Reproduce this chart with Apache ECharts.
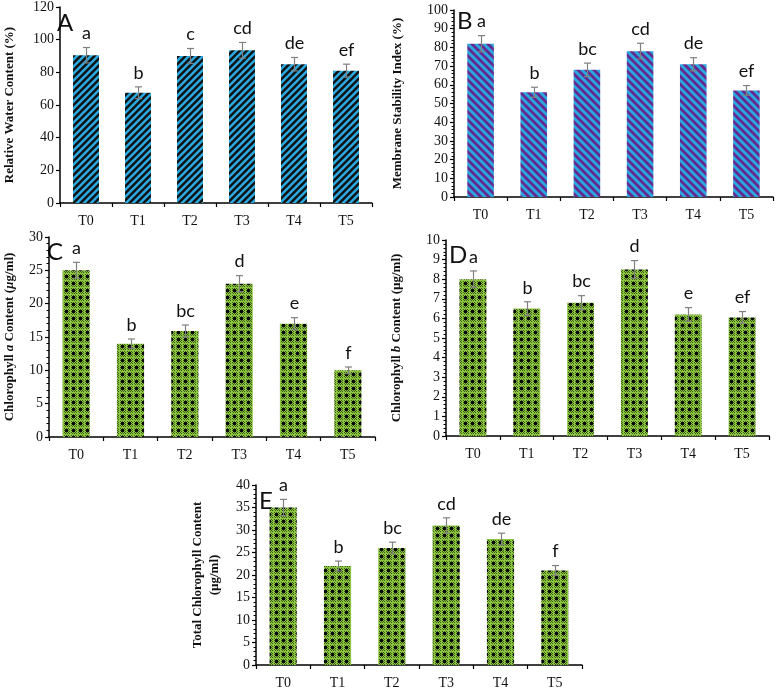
<!DOCTYPE html>
<html>
<head>
<meta charset="utf-8">
<script src="https://cdn.jsdelivr.net/npm/echarts@6/dist/echarts.min.js"></script>
<style>html,body{margin:0;padding:0;background:#fff;}#main{width:776px;height:690px;}</style>
</head>
<body>
<div id="main"></div>
<script>
const categories = ['T0','T1','T2','T3','T4','T5'];

const rwcValues = [90.5, 67.5, 90, 93.5, 85, 81];
const rwcErrors = [4.7, 3.6, 4.6, 4.8, 4.1, 4.0];
const rwcLetters = ['a','b','c','cd','de','ef'];

const msiValues = [82, 56, 68, 78, 71, 57];
const msiErrors = [4.3, 2.7, 3.6, 4.2, 3.5, 2.6];
const msiLetters = ['a','b','bc','cd','de','ef'];

const chlaValues = [25, 14, 15.9, 23, 17, 10];
const chlaErrors = [1.2, 0.7, 0.9, 1.2, 0.9, 0.5];
const chlaLetters = ['a','b','bc','d','e','f'];

const chlbValues = [8, 6.5, 6.8, 8.5, 6.2, 6.05];
const chlbErrors = [0.42, 0.35, 0.36, 0.45, 0.35, 0.3];
const chlbLetters = ['a','b','bc','d','e','ef'];

const totalValues = [35, 22, 26, 31, 28, 21];
const totalErrors = [1.8, 1.1, 1.3, 1.7, 1.3, 1.1];
const totalLetters = ['a','b','bc','cd','de','f'];

function stripeCanvas(bg, fg, dir, s, lw) {
  const c = document.createElement('canvas');
  c.width = s; c.height = s;
  const ctx = c.getContext('2d');
  ctx.fillStyle = bg; ctx.fillRect(0,0,s,s);
  ctx.strokeStyle = fg; ctx.lineWidth = lw; ctx.lineCap = 'square';
  const seg = (a,b,c2,d) => { ctx.beginPath(); ctx.moveTo(a,b); ctx.lineTo(c2,d); ctx.stroke(); };
  if (dir === '/') {
    seg(-1, s+1, s+1, -1); seg(-2, 2, 2, -2); seg(s-2, s+2, s+2, s-2);
  } else {
    seg(-1, -1, s+1, s+1); seg(s-2, -2, s+2, 2); seg(-2, s-2, 2, s+2);
  }
  return c;
}
function checkCanvas() {
  const s = 7;
  const c = document.createElement('canvas');
  c.width = s; c.height = s;
  const ctx = c.getContext('2d');
  ctx.fillStyle = '#8cc63f'; ctx.fillRect(0,0,s,s);
  ctx.fillStyle = '#3a571c';
  for (let y=1;y<s;y++) for (let x=1;x<s;x++) {
    if ((x+y)%2===0) ctx.fillRect(x,y,1,1);
  }
  ctx.fillStyle = '#050805';
  ctx.fillRect(2,2,3,3);
  return c;
}

const patA = {image: stripeCanvas('#111111', '#2aa8e0', '/', 7, 2.6), repeat: 'repeat'};
const patB = {image: stripeCanvas('#66288c', '#2ba6de', '\\', 8, 3.0), repeat: 'repeat'};
const patG = {image: checkCanvas(), repeat: 'repeat'};

const panels = [
  {vals: rwcValues, errs: rwcErrors, letters: rwcLetters, pat: patA, grid: {left:52, top:7, width:320, height:196}, max:120, interval:20, minor:false,
   name: 'Relative Water Content (%)', gap: 42, tag: 'A', tagPos: [57, 11]},
  {vals: msiValues, errs: msiErrors, letters: msiLetters, pat: patB, grid: {left:454, top:10, width:319, height:187}, max:100, interval:10, minor:true,
   name: 'Membrane Stability Index (%)', gap: 48, tag: 'B', tagPos: [457, 9]},
  {vals: chlaValues, errs: chlaErrors, letters: chlaLetters, pat: patG, grid: {left:44, top:237, width:331, height:200}, max:30, interval:5, minor:true,
   name: '{b|Chlorophyll }{i|a}{b| Content (}{i|µ}{b|g/ml)}', gap: 31, tag: 'C', tagPos: [47, 240]},
  {vals: chlbValues, errs: chlbErrors, letters: chlbLetters, pat: patG, grid: {left:446, top:240, width:323, height:196}, max:10, interval:1, minor:true,
   name: '{b|Chlorophyll }{i|b}{b| Content (µg/ml)}', gap: 41, tag: 'D', tagPos: [449, 243]},
  {vals: totalValues, errs: totalErrors, letters: totalLetters, pat: patG, grid: {left:256, top:485, width:326, height:181}, max:40, interval:5, minor:true,
   name: 'Total Chlorophyll Content\n(µg/ml)', gap: 33, tag: 'E', tagPos: [259, 489]}
];

const serif = '"Liberation Serif", "DejaVu Serif", serif';
const sans = 'Lato, "Open Sans", "Liberation Sans", sans-serif';

const grids = [], xAxes = [], yAxes = [], series = [], graphics = [];
panels.forEach((p, k) => {
  grids.push(Object.assign({containLabel:false}, p.grid));
  xAxes.push({
    type: 'category', gridIndex: k, data: categories,
    axisLine: {lineStyle: {color: '#000', width: 1.5}},
    axisTick: {show: true, length: 4, lineStyle: {color: '#000', width: 1.2}},
    axisLabel: {fontFamily: serif, fontSize: 14, color: '#111', margin: 11}
  });
  yAxes.push({
    type: 'value', gridIndex: k, min: 0, max: p.max, interval: p.interval,
    splitLine: {show: false},
    axisLine: {show: true, lineStyle: {color: '#000', width: 1.5}},
    axisTick: {show: true, length: 4, lineStyle: {color: '#000', width: 1.2}},
    minorTick: {show: p.minor, splitNumber: 5, length: 2.5, lineStyle: {color: '#000', width: 1}},
    axisLabel: {fontFamily: serif, fontSize: 14, color: '#111', margin: 6},
    name: p.name, nameLocation: 'middle', nameGap: p.gap, nameRotate: 90,
    nameTextStyle: {fontFamily: serif, fontSize: 13, fontWeight: 'bold', color: '#111', lineHeight: 17,
      rich: {b: {fontFamily: serif, fontSize: 13, fontWeight: 'bold', color: '#111'},
             i: {fontFamily: serif, fontSize: 13, fontWeight: 'bold', fontStyle: 'italic', color: '#111'}}}
  });
  series.push({
    type: 'bar', xAxisIndex: k, yAxisIndex: k, data: p.vals, barWidth: '50%',
    itemStyle: {color: p.pat}, silent: true, animation: false
  });
  const letters = p.letters;
  series.push({
    type: 'custom', xAxisIndex: k, yAxisIndex: k, animation: false, silent: true, z: 5,
    data: p.vals.map((v, i) => [i, v, p.errs[i]]),
    encode: {x: 0, y: 1},
    renderItem: function (params, api) {
      const i = api.value(0), v = api.value(1), e = api.value(2);
      const top = api.coord([i, v + e]);
      const bot = api.coord([i, v - e]);
      const cx = Math.round(top[0]) + 0.5;
      const ls = {stroke: '#808080', lineWidth: 1.2};
      return {type: 'group', children: [
        {type: 'line', shape: {x1: cx, y1: top[1], x2: cx, y2: bot[1]}, style: ls},
        {type: 'line', shape: {x1: cx - 3.5, y1: top[1], x2: cx + 3.5, y2: top[1]}, style: ls},
        {type: 'line', shape: {x1: cx - 3.5, y1: bot[1], x2: cx + 3.5, y2: bot[1]}, style: ls},
        {type: 'text', x: cx, y: top[1] - 5, style: {text: letters[params.dataIndex], fill: '#111',
          font: '18px ' + sans, align: 'center', verticalAlign: 'bottom', textAlign: 'center', textVerticalAlign: 'bottom'}}
      ]};
    }
  });
  graphics.push({type: 'text', left: p.tagPos[0], top: p.tagPos[1], style: {text: p.tag, fill: '#111', font: '24px ' + sans}});
});

const chart = echarts.init(document.getElementById('main'), null, {renderer: 'canvas'});
chart.setOption({
  animation: false,
  grid: grids, xAxis: xAxes, yAxis: yAxes, series: series, graphic: graphics
});
</script>
</body>
</html>
